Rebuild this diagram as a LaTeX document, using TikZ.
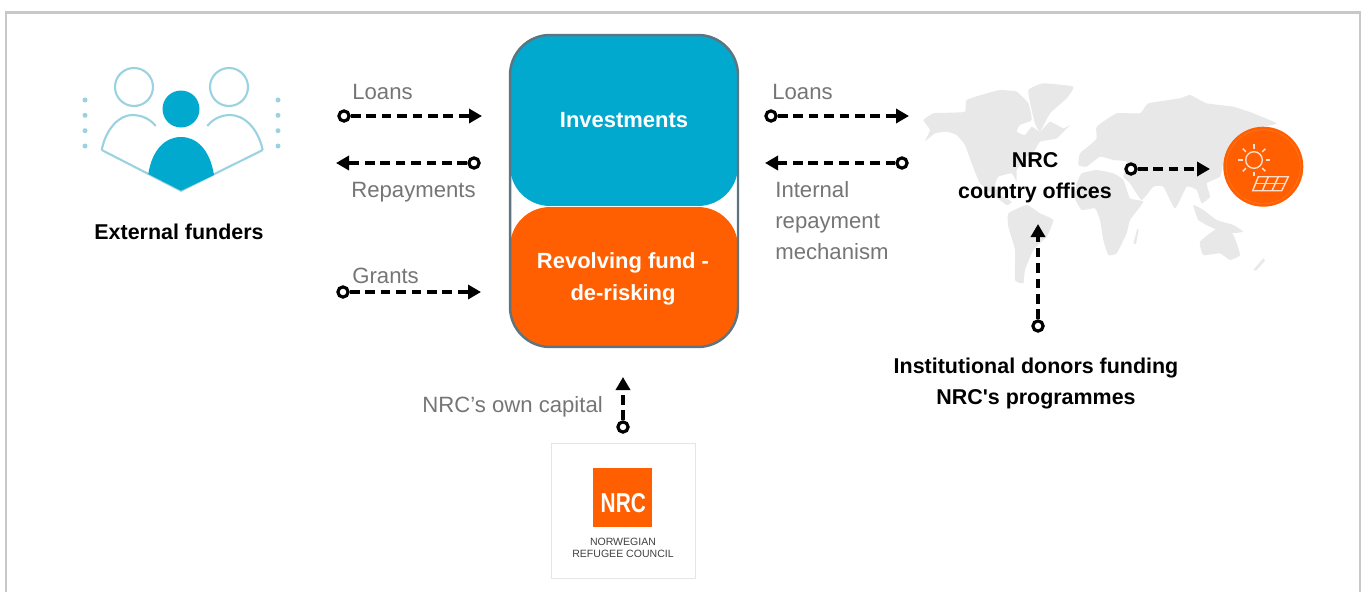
\documentclass[tikz,border=0pt]{standalone}
\usepackage{fontspec}
\setmainfont{Liberation Sans}[Ligatures=TeXOff]
\usetikzlibrary{arrows.meta}

\definecolor{fundteal}{HTML}{02A9CE}
\definecolor{nrcorange}{HTML}{FF5F00}
\definecolor{iconblue}{HTML}{9AD3DF}
\definecolor{labelgray}{HTML}{757575}
\definecolor{mapgray}{HTML}{E8E8E8}
\definecolor{framegray}{HTML}{C8C8C8}
\definecolor{boxgray}{HTML}{5E7480}

\tikzset{
  flowline/.style={-{Triangle[length=7.4pt,width=8pt]}, line width=1.9pt, dash pattern=on 5.6pt off 3.2pt},
  startdot/.style={circle, draw=black, line width=1.8pt, fill=white, inner sep=0pt, minimum size=5.8pt},
  graytext/.style={text=labelgray, anchor=west, font=\fontsize{12.6}{17.6}\selectfont, align=left, inner sep=0pt},
  boldtext/.style={text=black, font=\fontsize{12.2}{17.6}\selectfont\bfseries, align=center, inner sep=0pt},
  fundpart/.style={minimum width=4.56cm, rounded corners=0.8cm, text=white, font=\fontsize{12.5}{18}\selectfont\bfseries, align=center, inner sep=0pt},
  iconline/.style={draw=iconblue, line width=1.2pt},
  panelline/.style={draw=white!80!nrcorange, line width=0.8pt},
  mapland/.style={fill=mapgray},
}

\begin{document}
\begin{tikzpicture}[x=0.02cm,y=-0.02cm]
  \useasboundingbox (0,0) rectangle (1361,592);
  % frame
  \draw[framegray, line width=1.2pt] (6,592) -- (6,12.5) -- (1360,12.5) -- (1360,592);

  % world map
  \begin{scope}[shift={(900,70)},scale=1/3]
    \path[mapland] plot[smooth cycle, tension=0.25] coordinates {(70,150) (100,130) (150,128) (195,125) (200,90) (260,70) (300,60) (350,65) (385,100) (395,150) (360,165) (350,185) (375,195) (395,170) (420,185) (450,155) (490,175) (510,165) (470,205) (420,215) (405,240) (375,265) (350,300) (350,335) (335,310) (295,320) (285,345) (300,375) (335,395) (320,405) (280,375) (240,340) (215,280) (195,225) (170,195) (140,185) (105,190) (75,213) (90,180)};
    \path[mapland] plot[smooth cycle, tension=0.25] coordinates {(385,60) (430,40) (520,50) (500,85) (450,130) (420,185) (405,160) (395,120)};
    \path[mapland] plot[smooth cycle, tension=0.25] coordinates {(325,430) (380,405) (420,430) (460,450) (440,500) (400,540) (375,600) (370,640) (345,630) (345,540) (325,470)};
    \path[mapland] plot[smooth cycle, tension=0.25] coordinates {(530,340) (545,310) (590,300) (640,310) (670,330) (690,385) (730,395) (690,450) (680,490) (650,550) (625,555) (610,510) (600,450) (585,415) (545,420) (525,385)};
    \path[mapland] plot[smooth cycle, tension=0.25] coordinates {(535,285) (540,250) (570,225) (590,205) (590,170) (650,130) (720,130) (745,100) (840,85) (870,75) (920,100) (1000,110) (1060,130) (1130,160) (1090,170) (1040,185) (1030,215) (990,240) (970,280) (960,320) (920,340) (930,380) (905,400) (890,360) (860,350) (825,415) (790,350) (760,350) (725,390) (690,340) (670,320) (680,275) (640,270) (600,260) (560,290)};
    \path[mapland] plot[smooth cycle, tension=0.25] coordinates {(880,405) (910,420) (950,450) (1000,465) (1030,485) (990,490) (940,475) (895,450)};
    \path[mapland] plot[smooth cycle, tension=0.25] coordinates {(900,515) (960,470) (1000,495) (1020,555) (990,570) (960,550) (910,555)};
    \path[mapland] (1060,600) -- (1090,565) -- (1095,572) -- (1068,602) -- cycle;
    \path[mapland] (700,520) -- (712,475) -- (716,480) -- (708,522) -- cycle;
    \path[mapland] (1040,255) -- (1048,262) -- (1025,295) -- (1012,290) -- cycle;
  \end{scope}

  % external funders icon
  \draw[iconline] (134,87) circle [radius=19];
  \draw[iconline] (229,87) circle [radius=19];
  \draw[iconline] (101.7,150) .. controls (106,128) and (120,115) .. (132,115) .. controls (143,115) and (151,120) .. (155.7,126);
  \draw[iconline] (262.7,150) .. controls (258,128) and (244,115) .. (230,115) .. controls (220,115) and (212,120) .. (207.3,126);
  \draw[iconline] (101.7,150) -- (181,190.7) -- (262.7,150);
  \fill[fundteal] (181,109) circle [radius=18.5];
  \fill[fundteal] (148.3,174) .. controls (152,150) and (165,137) .. (181,137) .. controls (197,137) and (210,150) .. (214,175) -- (181,190.7) -- cycle;
  \foreach \dotx in {85,278}
    \foreach \doty in {100,115.3,130.7,146}
      \fill[iconblue] (\dotx,\doty) circle [radius=2.5];
  \node[boldtext] (funders) at (179,232) {External funders};

  % fund box
  \node[fundpart, fill=fundteal, minimum height=3.44cm] (investments) at (624,120) {Investments};
  \node[fundpart, fill=nrcorange, minimum height=2.8cm] (revolving) at (624,277) {};
  \node[text=white, inner sep=0pt, align=center, font=\fontsize{12.5}{18}\selectfont\bfseries] (revolvingtext) at (623,279) {Revolving fund -\\de-risking};
  \node[draw=boxgray, line width=1.4pt, rounded corners=0.8cm, minimum width=4.56cm, minimum height=6.24cm, inner sep=0pt] (fundbox) at (624,191) {};

  % left side
  \node[graytext] (loansleft) at (352,92) {Loans};
  \node[startdot] (loansleftstart) at (344,116) {};
  \coordinate (loansleftend) at (482,116);
  \draw[flowline] (loansleftstart) -- (loansleftend);
  \node[startdot] (repayleftstart) at (474,163) {};
  \coordinate (repayleftend) at (336,163);
  \draw[flowline] (repayleftstart) -- (repayleftend);
  \node[graytext] (repayleft) at (351,192) {Repayments};
  \node[graytext] (grants) at (352,276) {Grants};
  \node[startdot] (grantsstart) at (343,292) {};
  \coordinate (grantsend) at (481,292);
  \draw[flowline] (grantsstart) -- (grantsend);

  % right side
  \node[graytext] (loansright) at (772,92) {Loans};
  \node[startdot] (loansrightstart) at (771,116) {};
  \coordinate (loansrightend) at (909,116);
  \draw[flowline] (loansrightstart) -- (loansrightend);
  \node[startdot] (repayrightstart) at (902,163) {};
  \coordinate (repayrightend) at (765,163);
  \draw[flowline] (repayrightstart) -- (repayrightend);
  \node[graytext] (internal) at (775,221) {Internal\\repayment\\mechanism};

  % country offices
  \node[boldtext] (offices) at (1035,177.5) {NRC\\country offices};
  \node[startdot] (officesstart) at (1131,169) {};
  \coordinate (officesend) at (1210,169);
  \draw[flowline] (officesstart) -- (officesend);
  \node[boldtext] (donors) at (1036,383.5) {Institutional donors funding\\NRC's programmes};
  \node[startdot] (donorsstart) at (1038,326) {};
  \coordinate (donorsend) at (1038,224);
  \draw[flowline] (donorsstart) -- (donorsend);

  % solar circle
  \fill[nrcorange] (1263.3,166.7) circle [radius=40];
  \draw[white!15!nrcorange, line width=0.3pt] (1263.3,166.7) circle [radius=37];
  \draw[panelline] (1254,160) circle [radius=8.3];
  \foreach \rayangle in {0,45,...,315}
    \draw[panelline] (1254,160) ++(\rayangle:11.5) -- ++(\rayangle:4.5);
  \draw[panelline] (1258.3,176.7) -- (1288.3,176.7) -- (1281.7,190.7) -- (1252.7,190.7) -- cycle;
  \draw[panelline] (1255.5,183.7) -- (1285,183.7);
  \draw[panelline] (1268.3,176.7) -- (1262.4,190.7);
  \draw[panelline] (1278.3,176.7) -- (1272,190.7);

  % own capital
  \node[graytext] (capital) at (422,407) {NRC’s own capital};
  \node[draw=black!10, fill=white, line width=0.5pt, minimum width=2.88cm, minimum height=2.7cm, inner sep=0pt] (logobox) at (623,510.5) {};
  \node[startdot] (capitalstart) at (623,427) {};
  \coordinate (capitalend) at (623,377);
  \draw[flowline] (capitalstart) -- (capitalend);
  \node[fill=nrcorange, minimum size=1.18cm, inner sep=0pt] (logosquare) at (622.8,497.2) {};
  \node[text=white, inner sep=0pt, font=\fontsize{13.5}{14}\selectfont\bfseries] (logotext) at (623.3,503.5) {\scalebox{0.88}[1.15]{NRC}};
  \node[inner sep=0pt, align=center, text=black!75, font=\fontsize{6}{7}\selectfont] (logoname) at (623,548) {NORWEGIAN\\REFUGEE COUNCIL};
\end{tikzpicture}
\end{document}
